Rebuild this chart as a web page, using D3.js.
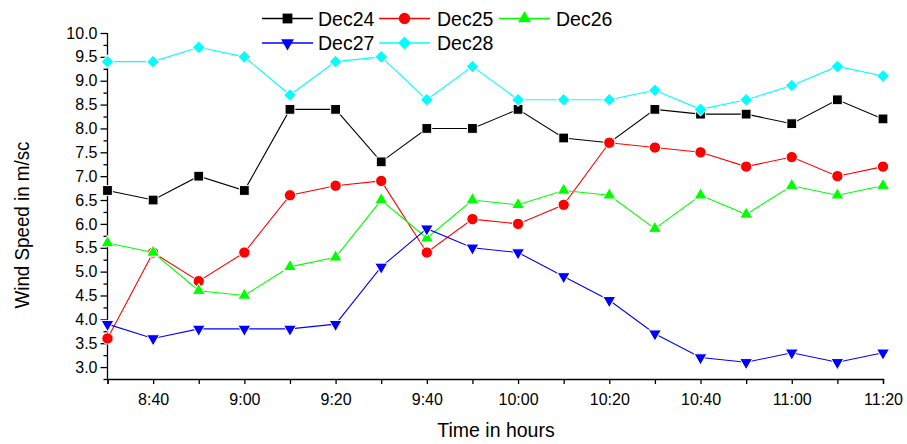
<!DOCTYPE html>
<html lang="en">
<head>
  <meta charset="UTF-8">
  <title>Wind Speed</title>
  <script src="https://d3js.org/d3.v7.min.js"></script>
  <style>
    body { margin: 0; background: #fff; }
    svg { font-family: "Liberation Sans", Arial, sans-serif; }
    .axis path, .axis line { stroke: #000; stroke-width: 1.3; }
    .axis text { font-size: 16px; fill: #000; }
  </style>
</head>
<body>
  <svg id="chart" width="907" height="444"></svg>
  <script>
    // time of each reading (8:30 .. 11:20, every 10 minutes)
    const times = ["8:30", "8:40", "8:50", "9:00", "9:10", "9:20", "9:30", "9:40", "9:50",
                   "10:00", "10:10", "10:20", "10:30", "10:40", "10:50", "11:00", "11:10", "11:20"];

    const dec24 = [6.7, 6.5, 7.0, 6.7, 8.4, 8.4, 7.3, 8.0, 8.0, 8.4, 7.8, 7.7, 8.4, 8.3, 8.3, 8.1, 8.6, 8.2];
    const dec25 = [3.6, 5.4, 4.8, 5.4, 6.6, 6.8, 6.9, 5.4, 6.1, 6.0, 6.4, 7.7, 7.6, 7.5, 7.2, 7.4, 7.0, 7.2];
    const dec26 = [5.6, 5.4, 4.6, 4.5, 5.1, 5.3, 6.5, 5.7, 6.5, 6.4, 6.7, 6.6, 5.9, 6.6, 6.2, 6.8, 6.6, 6.8];
    const dec27 = [3.9, 3.6, 3.8, 3.8, 3.8, 3.9, 5.1, 5.9, 5.5, 5.4, 4.9, 4.4, 3.7, 3.2, 3.1, 3.3, 3.1, 3.3];
    const dec28 = [9.4, 9.4, 9.7, 9.5, 8.7, 9.4, 9.5, 8.6, 9.3, 8.6, 8.6, 8.6, 8.8, 8.4, 8.6, 8.9, 9.3, 9.1];

    const seriesNames = ["Dec24", "Dec25", "Dec26", "Dec27", "Dec28"];
    const yTicks = [3.0, 3.5, 4.0, 4.5, 5.0, 5.5, 6.0, 6.5, 7.0, 7.5, 8.0, 8.5, 9.0, 9.5, 10.0];

    const toMin = t => { const [h, m] = t.split(":"); return +h * 60 + +m; };

    const series = [
      { name: seriesNames[0], values: dec24, color: "#000000", shape: "square" },
      { name: seriesNames[1], values: dec25, color: "#ff0000", shape: "circle" },
      { name: seriesNames[2], values: dec26, color: "#00ff00", shape: "up" },
      { name: seriesNames[3], values: dec27, color: "#0000ff", shape: "down" },
      { name: seriesNames[4], values: dec28, color: "#00ffff", shape: "diamond" }
    ];

    const svg = d3.select("#chart");
    const plotL = 107.5, plotR = 883, plotT = 33, plotB = 379;

    const x = d3.scaleLinear()
      .domain([toMin(times[0]), toMin(times[times.length - 1])])
      .range([plotL, plotR]);
    const y = d3.scaleLinear().domain([2.75, 10]).range([plotB, plotT]);

    // markers
    function marker(shape) {
      if (shape === "square") return { d: d3.symbol(d3.symbolSquare, 96)(), rot: 0 };
      if (shape === "circle") return { d: d3.symbol(d3.symbolCircle, 100)(), rot: 0 };
      if (shape === "up") return { d: d3.symbol(d3.symbolTriangle, 72)(), rot: 0 };
      if (shape === "down") return { d: d3.symbol(d3.symbolTriangle, 72)(), rot: 180 };
      return { d: d3.symbol(d3.symbolSquare, 84)(), rot: 45 };
    }

    // axes
    const xTickVals = times.map(toMin);
    svg.append("g")
      .attr("class", "axis")
      .attr("transform", `translate(0,${plotB})`)
      .call(d3.axisBottom(x).tickValues(xTickVals).tickSize(5).tickPadding(10)
        .tickFormat((d, i) => i % 2 === 1 ? times[i] : ""));

    const yMinor = d3.range(2.75, 10.01, 0.25).filter(v => Math.abs(v * 2 - Math.round(v * 2)) > 0.01);
    svg.append("g")
      .attr("class", "axis")
      .attr("transform", `translate(${plotL},0)`)
      .call(d3.axisLeft(y).tickValues(yMinor).tickSize(4).tickFormat(""))
      .call(g => g.select(".domain").remove());
    svg.append("g")
      .attr("class", "axis")
      .attr("transform", `translate(${plotL},0)`)
      .call(d3.axisLeft(y).tickValues(yTicks).tickSize(7).tickPadding(3).tickFormat(d3.format(".1f")))
      .call(g => g.select(".domain").attr("d", `M0,${plotB}V${plotT}`));

    // series
    const line = d3.line().x((d, i) => x(toMin(times[i]))).y(d => y(d));
    series.forEach(s => {
      const g = svg.append("g");
      g.append("path")
        .attr("d", line(s.values))
        .attr("fill", "none")
        .attr("stroke", s.color)
        .attr("stroke-width", 1.1);
      const m = marker(s.shape);
      g.selectAll("path.pt")
        .data(s.values)
        .enter().append("path")
        .attr("class", "pt")
        .attr("d", m.d)
        .attr("transform", (d, i) => `translate(${x(toMin(times[i]))},${y(d)}) rotate(${m.rot})`)
        .attr("fill", s.color)
        .attr("stroke", "#fff")
        .attr("stroke-width", 1);
    });

    // legend
    const legendPos = [
      { lx: 262, tx: 318, ly: 18.5 },
      { lx: 379, tx: 437, ly: 18.5 },
      { lx: 499, tx: 556, ly: 18.5 },
      { lx: 262, tx: 318, ly: 43 },
      { lx: 379, tx: 437, ly: 43 }
    ];
    series.forEach((s, i) => {
      const p = legendPos[i];
      const g = svg.append("g");
      g.append("line")
        .attr("x1", p.lx).attr("x2", p.lx + 51)
        .attr("y1", p.ly).attr("y2", p.ly)
        .attr("stroke", s.color).attr("stroke-width", 1.4);
      const m = marker(s.shape);
      g.append("path")
        .attr("d", m.d)
        .attr("transform", `translate(${p.lx + 25.5},${p.ly}) rotate(${m.rot})`)
        .attr("fill", s.color);
      g.append("text")
        .attr("x", p.tx).attr("y", p.ly + 7.3)
        .attr("font-size", 19.5)
        .text(s.name);
    });

    // axis titles
    svg.append("text")
      .attr("x", 496).attr("y", 437)
      .attr("text-anchor", "middle")
      .attr("font-size", 19.5)
      .text("Time in hours");
    svg.append("text")
      .attr("transform", "translate(29,225) rotate(-90)")
      .attr("text-anchor", "middle")
      .attr("font-size", 21)
      .attr("textLength", 167)
      .attr("lengthAdjust", "spacingAndGlyphs")
      .text("Wind Speed in m/sc");
  </script>
</body>
</html>
